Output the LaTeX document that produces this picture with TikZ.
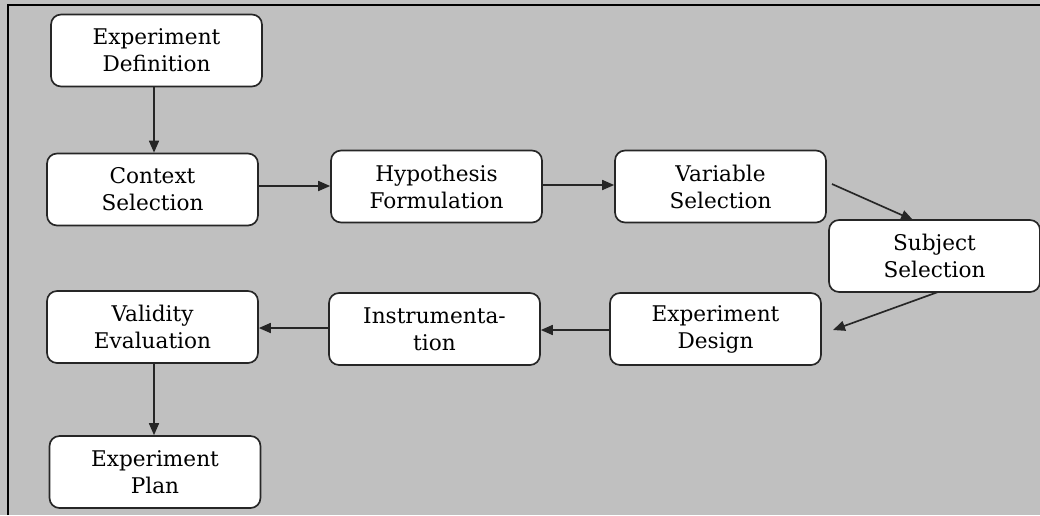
\documentclass[tikz,border=0pt]{standalone}
\usepackage{fontspec}
\setmainfont{DejaVu Serif}
\usetikzlibrary{arrows.meta}
\definecolor{panel}{HTML}{C0C0C0}
\definecolor{edge}{HTML}{262626}
\begin{document}
\begin{tikzpicture}[x=0.02cm,y=-0.02cm,
  stepbox/.style={draw=edge, fill=white, rounded corners=0.2cm, line width=0.95pt,
    minimum width=4.22cm, minimum height=1.44cm, align=center, inner sep=0pt,
    font=\fontsize{12.3}{15.3}\selectfont},
  flow/.style={draw=edge, line width=0.95pt, -{Triangle[length=0.24cm,width=0.2cm]}}]
% grey panel with its top and left frame lines
\fill[panel] (0,0) rectangle (1040,515);
\useasboundingbox (0,0) rectangle (1040,515);
\draw[line width=1pt] (8,515) -- (8,5) -- (1040,5);

% process steps
\node[stepbox] (def)   at (156.5,50.5)  {Experiment\\Definition};
\node[stepbox] (ctx)   at (152.5,189.5) {Context\\Selection};
\node[stepbox] (hyp)   at (436.5,186.5) {Hypothesis\\Formulation};
\node[stepbox] (var)   at (720.5,186.5) {Variable\\Selection};
\node[stepbox] (subj)  at (934.5,256)   {Subject\\Selection};
\node[stepbox] (des)   at (715.5,329)   {Experiment\\Design};
\node[stepbox] (instr) at (434.5,329)   {Instrumenta-\\tion};
\node[stepbox] (val)   at (152.5,327)   {Validity\\Evaluation};
\node[stepbox] (plan)  at (155,472)     {Experiment\\Plan};

% connectors
\draw[flow] (def.south -| 154,0) -- (ctx.north -| 154,0);
\draw[flow] (ctx.east |- 0,186) -- (hyp.west |- 0,186);
\draw[flow] (hyp.east |- 0,185) -- (var.west |- 0,185);
\coordinate (varout) at (832,184);
\coordinate (subjin) at (913,220);
\draw[flow] (varout) -- (subjin);
\coordinate (subjout) at (938,292);
\coordinate (desin) at (833,330);
\draw[flow] (subjout) -- (desin);
\draw[flow] (des.west |- 0,330) -- (instr.east |- 0,330);
\draw[flow] (instr.west |- 0,328) -- (val.east |- 0,328);
\draw[flow] (val.south -| 154,0) -- (plan.north -| 154,0);
\end{tikzpicture}
\end{document}
